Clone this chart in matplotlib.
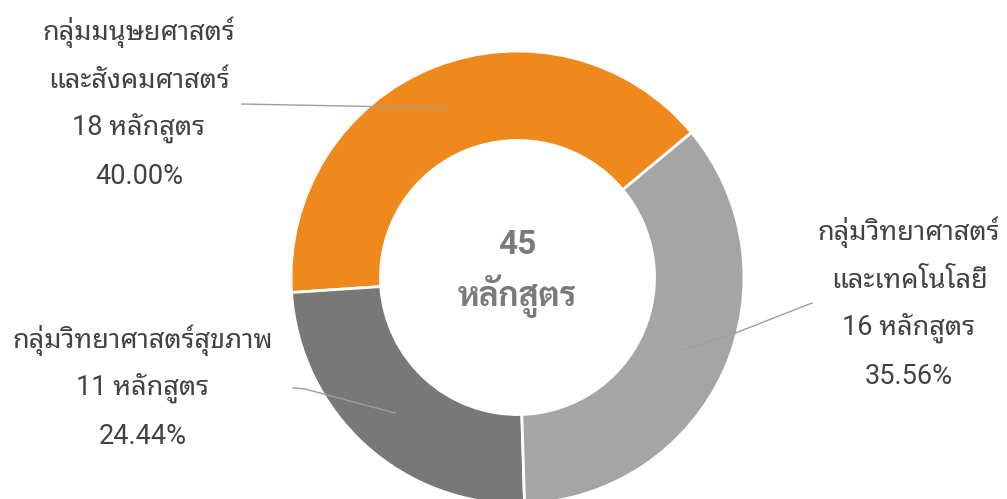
import matplotlib
matplotlib.use("Agg")
import matplotlib.pyplot as plt

groups = ["กลุ่มมนุษยศาสตร์\nและสังคมศาสตร์", "กลุ่มวิทยาศาสตร์สุขภาพ", "กลุ่มวิทยาศาสตร์\nและเทคโนโลยี"]
courses = [18, 11, 16]
colors = ["#F0891C", "#787878", "#A5A5A5"]
total = sum(courses)

W, H = 1007, 499
fig = plt.figure(figsize=(W / 100, H / 100), dpi=100)
ax = fig.add_axes([0, 0, 1, 1])

# pixel coords, y measured from the top of the picture
def py(y):
    return H - y

cx, cy, r = 517.5, 277.5, 226.5
ax.pie(courses, colors=colors, startangle=39.8, counterclock=True,
       center=(cx, py(cy)), radius=r,
       wedgeprops=dict(width=r * 0.395, edgecolor="white", linewidth=2))
ax.set_xlim(0, W)
ax.set_ylim(0, H)
ax.set_aspect("auto")
ax.axis("off")

fam = ["Roboto", "Noto Sans Thai Looped"]
fam_bold = ["Roboto", "Sarabun"]
txt_col = "#424242"
line_col = "#9E9E9E"

# leader lines
leaders = [
    [(242, 104), (448, 108)],
    [(293, 388), (305, 389), (395, 413)],
    [(812, 303), (738, 332), (683, 350)],
]
for pts in leaders:
    ax.plot([p[0] for p in pts], [py(p[1]) for p in pts], color=line_col, lw=1, zorder=3)

# labels: (center x, first line y)
spots = [(139, 32), (143, 340), (909, 232)]
for g, n, (x, y0) in zip(groups, courses, spots):
    lines = g.split("\n") + [f"{n} หลักสูตร", f"{n / total * 100:.2f}%"]
    for i, s in enumerate(lines):
        ax.text(x, py(y0 + i * 48), s, ha="center", va="center",
                fontsize=19.5, color=txt_col, family=fam)

ax.text(cx, py(245), str(total), ha="center", va="center", fontsize=24,
        fontweight="bold", color="#7A7A7A", family=fam_bold)
ax.text(cx, py(296), "หลักสูตร", ha="center", va="center", fontsize=24,
        fontweight="bold", color="#7A7A7A", family=fam_bold)

fig.savefig("out.png", dpi=100)
